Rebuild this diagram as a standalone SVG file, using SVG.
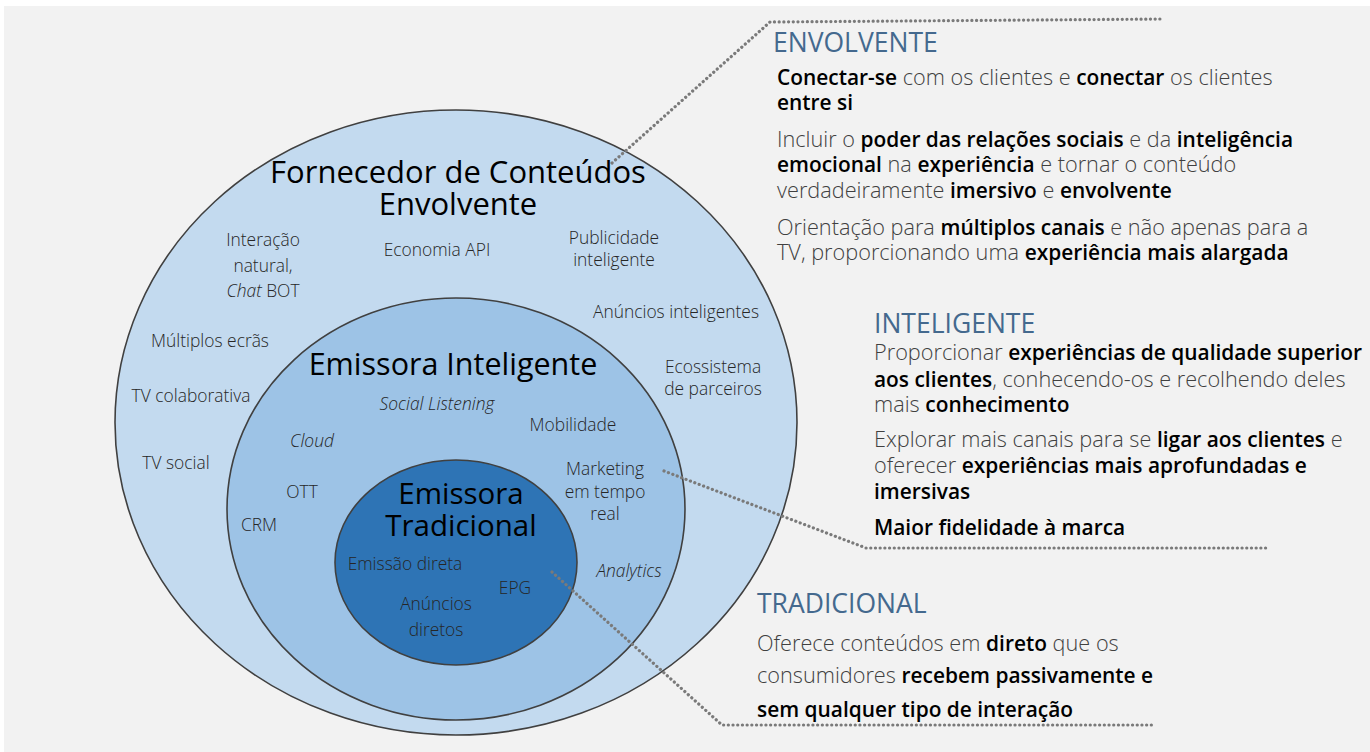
<svg xmlns="http://www.w3.org/2000/svg" width="1370" height="752" viewBox="0 0 1370 752">
<style>
.ring{stroke:#404040;stroke-width:1.6}
.t{font-family:"Open Sans","Liberation Sans",sans-serif;font-weight:300;fill:#262626;font-size:17.4px;text-anchor:middle}
.i{font-style:italic}
.h{font-family:"Open Sans","Liberation Sans",sans-serif;font-weight:400;fill:#000;font-size:30.5px;text-anchor:middle}
.hd{font-family:"Open Sans","Liberation Sans",sans-serif;font-weight:400;fill:#44698e;font-size:26.5px}
.b{font-family:"Open Sans","Liberation Sans",sans-serif;font-weight:300;fill:#404040;font-size:21.7px}
.s{font-weight:600;fill:#000;font-size:20.9px}
.dot{fill:none;stroke:#7a7a7a;stroke-width:3.2;stroke-linecap:round;stroke-dasharray:0.1 4.6}
</style>
<rect width="1370" height="752" fill="#ffffff"/>
<rect x="4" y="6" width="1366" height="746" fill="#f2f2f2"/>

<g id="node-envolvente">
<ellipse class="ring" cx="456" cy="422.5" rx="341" ry="312.5" fill="#c3daef"/>
<text class="h" x="458" y="183" style="font-size:31px">Fornecedor de Conteúdos</text>
<text class="h" x="458" y="215" style="font-size:31px">Envolvente</text>
<text class="t" x="263" y="246">Interação</text>
<text class="t" x="263" y="272">natural,</text>
<text class="t" x="263" y="297"><tspan class="i">Chat</tspan> BOT</text>
<text class="t" x="437" y="256">Economia API</text>
<text class="t" x="614" y="244">Publicidade</text>
<text class="t" x="614" y="266">inteligente</text>
<text class="t" x="676" y="318">Anúncios inteligentes</text>
<text class="t" x="210" y="347">Múltiplos ecrãs</text>
<text class="t" x="713" y="373">Ecossistema</text>
<text class="t" x="713" y="395">de parceiros</text>
<text class="t" x="191" y="402">TV colaborativa</text>
<text class="t" x="176" y="469">TV social</text>
</g>

<g id="node-inteligente">
<ellipse class="ring" cx="456" cy="509" rx="229" ry="211" fill="#9dc3e6"/>
<text class="h" x="453" y="375">Emissora Inteligente</text>
<text class="t i" x="437" y="410">Social Listening</text>
<text class="t" x="573" y="431">Mobilidade</text>
<text class="t i" x="312" y="447">Cloud</text>
<text class="t" x="605" y="475">Marketing</text>
<text class="t" x="605" y="498">em tempo</text>
<text class="t" x="605" y="520">real</text>
<text class="t" x="302" y="498">OTT</text>
<text class="t" x="259" y="531">CRM</text>
<text class="t i" x="629" y="577">Analytics</text>
</g>

<g id="node-tradicional">
<ellipse class="ring" cx="456" cy="562.5" rx="121" ry="102.5" fill="#2e74b5"/>
<text class="h" x="461" y="504" style="font-size:29.5px">Emissora</text>
<text class="h" x="461" y="536" style="font-size:29.5px">Tradicional</text>
<text class="t" x="405" y="570">Emissão direta</text>
<text class="t" x="515" y="594">EPG</text>
<text class="t" x="436" y="610">Anúncios</text>
<text class="t" x="436" y="636">diretos</text>
</g>

<g id="connectors">
<polyline class="dot" points="612,163 770,22 1163,19"/>
<polyline class="dot" points="664,471 866,548 1268,548"/>
<polyline class="dot" points="552,572 722,725 1152,725"/>
</g>

<g id="panel-envolvente">
<text class="hd" x="773" y="52">ENVOLVENTE</text>
<text class="b" x="777" y="85"><tspan class="s">Conectar-se</tspan> com os clientes e <tspan class="s">conectar</tspan> os clientes</text>
<text class="b" x="777" y="110"><tspan class="s">entre si</tspan></text>
<text class="b" x="777" y="147">Incluir o <tspan class="s">poder das relações sociais</tspan> e da <tspan class="s">inteligência</tspan></text>
<text class="b" x="777" y="172"><tspan class="s">emocional</tspan> na <tspan class="s">experiência</tspan> e tornar o conteúdo</text>
<text class="b" x="777" y="198">verdadeiramente <tspan class="s">imersivo</tspan> e <tspan class="s">envolvente</tspan></text>
<text class="b" x="777" y="235">Orientação para <tspan class="s">múltiplos canais</tspan> e não apenas para a</text>
<text class="b" x="777" y="260">TV, proporcionando uma <tspan class="s">experiência mais alargada</tspan></text>
</g>

<g id="panel-inteligente">
<text class="hd" x="874" y="333">INTELIGENTE</text>
<text class="b" x="874" y="360">Proporcionar <tspan class="s">experiências de qualidade superior</tspan></text>
<text class="b" x="874" y="387"><tspan class="s">aos clientes</tspan>, conhecendo-os e recolhendo deles</text>
<text class="b" x="874" y="412">mais <tspan class="s">conhecimento</tspan></text>
<text class="b" x="874" y="447">Explorar mais canais para se <tspan class="s">ligar aos clientes</tspan> e</text>
<text class="b" x="874" y="473">oferecer <tspan class="s">experiências mais aprofundadas e</tspan></text>
<text class="b" x="874" y="499"><tspan class="s">imersivas</tspan></text>
<text class="b" x="874" y="535"><tspan class="s">Maior fidelidade à marca</tspan></text>
</g>

<g id="panel-tradicional">
<text class="hd" x="757" y="613">TRADICIONAL</text>
<text class="b" x="757" y="651">Oferece conteúdos em <tspan class="s">direto</tspan> que os</text>
<text class="b" x="757" y="683">consumidores <tspan class="s">recebem passivamente e</tspan></text>
<text class="b" x="757" y="717"><tspan class="s">sem qualquer tipo de interação</tspan></text>
</g>
</svg>
